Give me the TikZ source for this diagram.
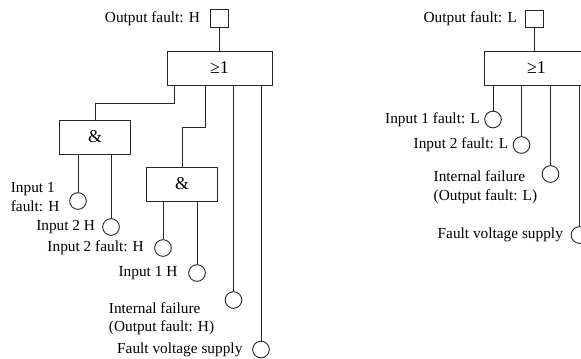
\documentclass[tikz,border=0pt]{standalone}
\usepackage{fontspec}
\setmainfont{Liberation Serif}
\usetikzlibrary{positioning}
\tikzset{
	gate/.style={draw, minimum height=25.5pt, inner sep=0pt, font=\fontsize{13.5}{15}\selectfont},
	orgate/.style={gate, minimum width=78.75pt},
	andgate/.style={gate, minimum width=53.25pt},
	outsq/.style={draw, minimum size=13pt, inner sep=0pt},
	insig/.style={draw, circle, minimum size=12.5pt, inner sep=0pt},
	lbl/.style={inner sep=2pt, align=left}
}

\begin{document}
\begin{tikzpicture}[x=0.75pt, y=-0.75pt, line width=0.7pt, draw=black!85, font=\fontsize{11.5}{14}\selectfont]
				\useasboundingbox (0,0) rectangle (581,358);
				% output fault H
				\node (orH)[orgate] at (219.5,68){≥1};
				\node (outH)[outsq] at (219.5,18.5){};
				\node (tH)[lbl, left=5.5pt of outH]{Output fault: H};
				\draw (outH) -- (orH);
				\node (andA)[andgate] at (95,137){\&};
				\node (andB)[andgate] at (182,184){\&};
				\draw ([xshift=6pt]orH.south west) -- ++(0,18) -| (andA);
				\draw ([xshift=29.25pt]orH.south west) -- ++(0,42) -| (andB);
				%
				\node (cA)[insig] at (78,201){};
				\node (cB)[insig] at (111,227){};
				\node (cC)[insig] at (163,248){};
				\node (cD)[insig] at (197,273){};
				\node (cE)[insig] at (233.5,300){};
				\node (cF)[insig] at (261,349.5){};
				\draw (cA) -- (cA |- andA.south);
				\draw (cB) -- (cB |- andA.south);
				\draw (cC) -- (cC |- andB.south);
				\draw (cD) -- (cD |- andB.south);
				\draw (cE) -- (cE |- orH.south);
				\draw (cF) -- (cF |- orH.south);
				\node [lbl, left=5pt of cA, yshift=3pt]{Input 1\\fault: H};
				\node [lbl, left=3pt of cB]{Input 2 H};
				\node [lbl, left=5.5pt of cC]{Input 2 fault: H};
				\node [lbl, left=5.8pt of cD]{Input 1 H};
				\node [lbl, anchor=north east, xshift=-7.5pt, yshift=-4pt] at (cE.north west){Internal failure\\(Output fault: H)};
				\node [lbl, left=5pt of cF]{Fault voltage supply};
				%
				% output fault L
				\node (orL)[orgate] at (536.5,68){≥1};
				\node (outL)[outsq] at (534.5,19){};
				\node (tL)[lbl, left=4pt of outL]{Output fault: L};
				\draw (outL) -- (outL |- orL.north);
				\node (cG)[insig] at (493,119.5){};
				\node (cH)[insig] at (521.5,145){};
				\node (cI)[insig] at (550.5,174){};
				\node (cJ)[insig] at (579.5,235){};
				\draw (cG) -- (cG |- orL.south);
				\draw (cH) -- (cH |- orL.south);
				\draw (cI) -- (cI |- orL.south);
				\draw (cJ) -- (cJ |- orL.south);
				\node [lbl, left=1pt of cG]{Input 1 fault: L};
				\node [lbl, left=1pt of cH]{Input 2 fault: L};
				\node [lbl, anchor=north east, xshift=-3pt] at (cI.north west){Internal failure\\(Output fault: L)};
				\node [lbl, left=3.5pt of cJ]{Fault voltage supply};
			\end{tikzpicture}
\end{document}
